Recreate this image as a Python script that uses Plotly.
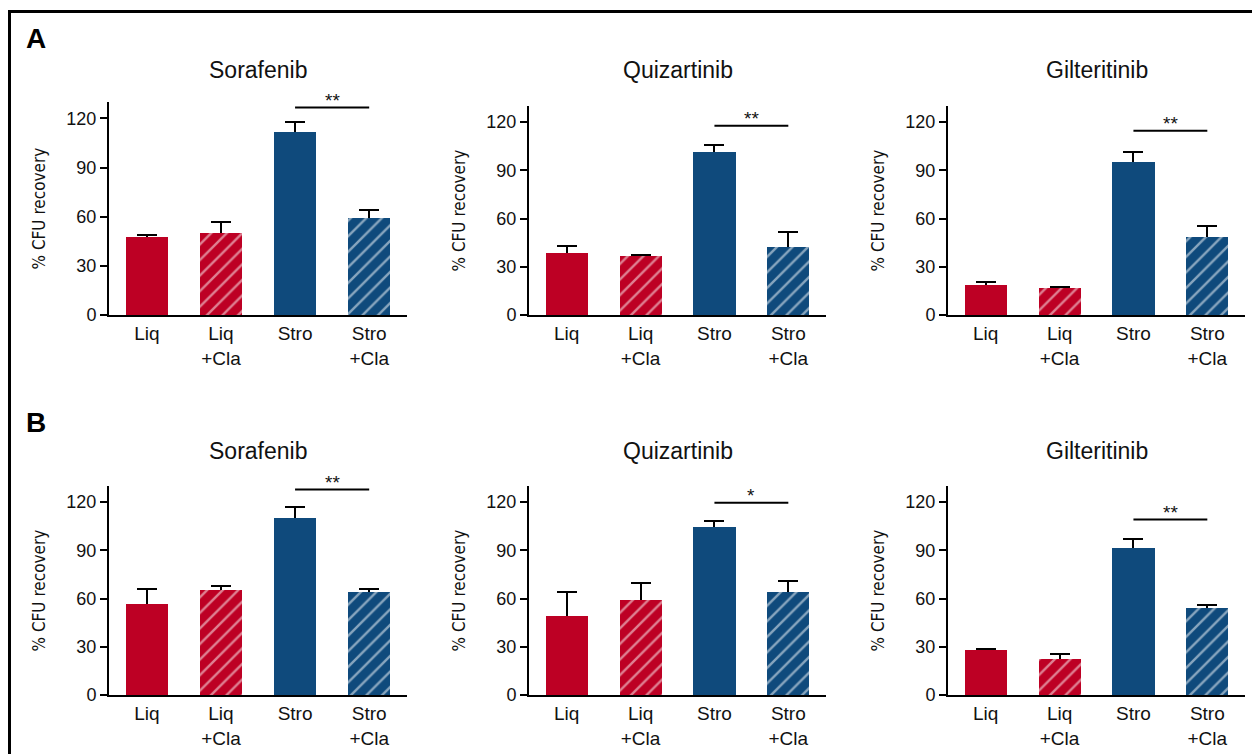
import plotly.graph_objects as go

# ---------------- data ----------------
categories = ["Liq", "Liq<br>+Cla", "Stro", "Stro<br>+Cla"]
drugs = ["Sorafenib", "Quizartinib", "Gilteritinib"]
panel_labels = ["A", "B"]

a_means = [[47.5, 49.9, 111.7, 59.1],
           [38.7, 36.8, 101.7, 42.4],
           [18.5, 16.8, 95.0, 48.3]]
a_sem = [[1.4, 6.8, 5.9, 4.9],
         [4.5, 0.4, 3.8, 9.2],
         [2.0, 0.6, 6.6, 7.2]]
b_means = [[56.6, 65.3, 110.2, 64.1],
           [49.0, 59.0, 104.4, 63.9],
           [27.8, 22.2, 91.3, 54.0]]
b_sem = [[9.1, 2.5, 6.7, 1.6],
         [15.3, 10.5, 3.7, 6.9],
         [0.6, 3.3, 6.0, 2.0]]
a_sig_level = [126.7, 117.7, 114.6]
b_sig_level = [127.9, 119.6, 109.2]
a_sig_text = ["**", "**", "**"]
b_sig_text = ["**", "*", "**"]
sig_pair = ["Stro", "Stro<br>+Cla"]

y_ticks = [0, 30, 60, 90, 120]
y_range = [0, 130]

# ---------------- style ----------------
W, H = 1252, 754
RED = "#BD0024"
BLUE = "#0F4A7C"
bar_colors = [RED, RED, BLUE, BLUE]
bar_patterns = ["", "/", "", "/"]
FONT = "Liberation Sans, Arial, Helvetica, sans-serif"
NARROW = "Liberation Sans Narrow, Arial Narrow, DejaVu Sans Condensed, Liberation Sans, sans-serif"
BAR_W = 0.57

col_px = [(109, 407), (529, 826), (948, 1245)]
row_px = [[(102, 315), (106, 315), (106, 315)],
          [(486, 695), (486, 695), (486, 695)]]
title_px = [70, 451]
label_px = [(36, 39), (36, 422)]

rows = [(a_means, a_sem, a_sig_level, a_sig_text),
        (b_means, b_sem, b_sig_level, b_sig_text)]

fig = go.Figure()
annotations = []
shapes = []

idx = 0
for r, (means, sems, sig_lv, sig_tx) in enumerate(rows):
    for c in range(3):
        idx += 1
        xa = "x" if idx == 1 else f"x{idx}"
        ya = "y" if idx == 1 else f"y{idx}"
        xk = "xaxis" if idx == 1 else f"xaxis{idx}"
        yk = "yaxis" if idx == 1 else f"yaxis{idx}"
        top, bot = row_px[r][c]
        x0, x1 = col_px[c]

        # error bars (drawn underneath so their lower cap is hidden by the bar)
        fig.add_trace(go.Bar(
            x=categories, y=means[c],
            xaxis=xa, yaxis=ya, width=BAR_W,
            marker=dict(color="rgba(0,0,0,0)", line=dict(width=0)),
            error_y=dict(type="data", array=sems[c],
                         color="black", thickness=2, width=10),
            showlegend=False, hoverinfo="skip",
        ))
        # bars
        fig.add_trace(go.Bar(
            x=categories, y=means[c],
            xaxis=xa, yaxis=ya, width=BAR_W,
            marker=dict(color=bar_colors, line=dict(width=0),
                        pattern=dict(shape=bar_patterns, fgcolor="white",
                                     size=11, solidity=0.22)),
            showlegend=False,
        ))

        fig.layout[xk] = dict(
            domain=[x0 / W, x1 / W], anchor=ya, automargin=False,
            type="category", range=[-0.51, 3.51],
            showline=True, linecolor="black", linewidth=2,
            ticks="", showgrid=False, zeroline=False,
            ticklabelstandoff=0,
            tickfont=dict(family=FONT, size=19, color="#111"),
            fixedrange=True,
        )
        fig.layout[yk] = dict(
            domain=[1 - bot / H, 1 - top / H], anchor=xa, automargin=False,
            range=y_range, tickvals=y_ticks,
            showline=True, linecolor="black", linewidth=2,
            ticks="outside", ticklen=7, tickwidth=2, tickcolor="black",
            showgrid=False, zeroline=False,
            tickfont=dict(family=FONT, size=18, color="#111"),
            fixedrange=True,
        )

        # y title
        annotations.append(dict(
            text="% CFU recovery", xref=f"{xa} domain", yref=f"{ya} domain",
            x=0, y=0.5, xshift=-71, xanchor="center", yanchor="middle",
            textangle=-90, showarrow=False,
            font=dict(family=NARROW, size=17, color="#111"),
        ))
        # panel title
        annotations.append(dict(
            text=drugs[c], xref=f"{xa} domain", yref="paper",
            x=0.5, y=1 - title_px[r] / H, xanchor="center", yanchor="middle",
            showarrow=False, font=dict(family=FONT, size=23, color="#111"),
        ))
        # significance bracket
        i0 = categories.index(sig_pair[0])
        i1 = categories.index(sig_pair[1])
        shapes.append(dict(
            type="line", xref=xa, yref=ya, x0=i0, x1=i1,
            y0=sig_lv[c], y1=sig_lv[c],
            line=dict(color="black", width=2),
        ))
        annotations.append(dict(
            text=sig_tx[c], xref=xa, yref=ya, x=(i0 + i1) / 2, y=sig_lv[c],
            xanchor="center", yanchor="middle", yshift=7, showarrow=False,
            font=dict(family=FONT, size=19, color="#111"),
        ))

for r, lab in enumerate(panel_labels):
    lx, ly = label_px[r]
    annotations.append(dict(
        text=f"<b>{lab}</b>", xref="paper", yref="paper",
        x=lx / W, y=1 - ly / H, xanchor="center", yanchor="middle",
        showarrow=False, font=dict(family=FONT, size=28, color="black"),
    ))

# outer frame (left and top edges)
shapes.append(dict(type="line", xref="paper", yref="paper",
                   x0=9.5 / W, x1=9.5 / W, y0=0, y1=1 - 11.5 / H,
                   line=dict(color="black", width=3)))
shapes.append(dict(type="line", xref="paper", yref="paper",
                   x0=8 / W, x1=1, y0=1 - 11.5 / H, y1=1 - 11.5 / H,
                   line=dict(color="black", width=3)))

fig.update_layout(
    width=W, height=H,
    margin=dict(l=0, r=0, t=0, b=0, autoexpand=False),
    paper_bgcolor="white", plot_bgcolor="white",
    annotations=annotations, shapes=shapes,
    barmode="overlay", bargap=0, showlegend=False,
)

fig.write_html("out.html", config={"displayModeBar": False},
               post_script="document.body.style.margin='0';document.body.style.overflow='hidden';")
